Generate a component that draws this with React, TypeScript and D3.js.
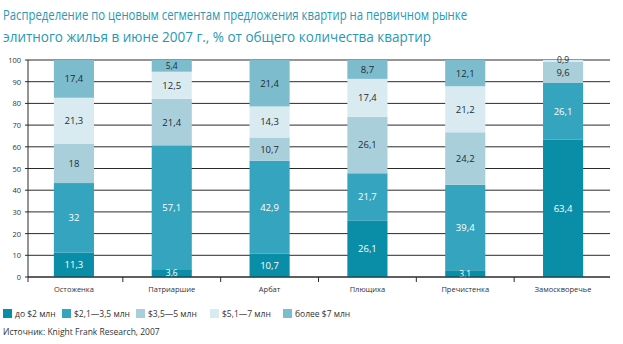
import React from "react";
import * as d3 from "d3";

const categories = ["Остоженка", "Патриаршие", "Арбат", "Плющиха", "Пречистенка", "Замоскворечье"];
const seriesNames = ["до $2 млн", "$2,1—3,5 млн", "$3,5—5 млн", "$5,1—7 млн", "более $7 млн"];
const upTo2 = [11.3, 3.6, 10.7, 26.1, 3.1, 63.4];
const from2to35 = [32, 57.1, 42.9, 21.7, 39.4, 26.1];
const from35to5 = [18, 21.4, 10.7, 26.1, 24.2, 9.6];
const from5to7 = [21.3, 12.5, 14.3, 17.4, 21.2, 0.9];
const over7 = [17.4, 5.4, 21.4, 8.7, 12.1, 0];
const yTicks = [0, 10, 20, 30, 40, 50, 60, 70, 80, 90, 100];
const titleLines = [
  "Распределение по ценовым сегментам предложения квартир на первичном рынке",
  "элитного жилья в июне 2007 г., % от общего количества квартир",
];
const sourceText = "Источник: Knight Frank Research, 2007";

const colors = ["#0a8ea7", "#35a5bf", "#a9cfdb", "#d9ebf1", "#7dbccd"];
const labelColors = ["#ffffff", "#ffffff", "#1d2b33", "#1d2b33", "#1d2b33"];
const FONT = "'Open Sans', 'DejaVu Sans', sans-serif";

export default function App() {
  const W = 623, H = 344;
  const seriesValues = [upTo2, from2to35, from35to5, from5to7, over7];
  const data = categories.map((c, i) => {
    const row: any = { cat: c };
    seriesNames.forEach((s, j) => (row[s] = seriesValues[j][i]));
    return row;
  });
  const stack = d3.stack<any>().keys(seriesNames)(data);

  const x = d3.scaleBand().domain(categories).range([25, 612]).paddingInner(0.59).paddingOuter(0.295);
  const step = x.step();
  const y = d3.scaleLinear().domain([0, 100]).range([277, 60]);
  const axisX0 = 28, axisX1 = 610;

  const legendX = [3, 62, 136, 210, 283];

  // label positions per bar, pushed apart when too close
  const labels: { x: number; y: number; text: string; color: string; size: number; key: string }[] = [];
  categories.forEach((cat, i) => {
    const items: { cy: number; v: number; j: number }[] = [];
    stack.forEach((s, j) => {
      const d = s[i];
      const v = d[1] - d[0];
      if (v <= 0) return;
      items.push({ cy: (y(d[0]) + y(d[1])) / 2, v, j });
    });
    // items bottom -> top; ensure min spacing
    const minGap = 12.5;
    for (let k = 1; k < items.length; k++) {
      const gap = items[k - 1].cy - items[k].cy;
      if (gap < minGap) {
        const deficit = minGap - gap;
        items[k - 1].cy += deficit / 2;
        items[k].cy -= deficit / 2;
      }
    }
    items.forEach((it) => {
      const small = y(0) - y(it.v) < 14;
      labels.push({
        x: (x(cat) as number) + x.bandwidth() / 2,
        y: it.cy + (small ? 3 : 3.5),
        text: String(Math.round(it.v * 10) / 10).replace(".", ","),
        color: labelColors[it.j],
        size: small ? 8.5 : 9.5,
        key: cat + it.j,
      });
    });
  });

  return (
    <svg width={W} height={H} style={{ position: "absolute", left: 0, top: 0, background: "#fff" }}>
      {titleLines.map((t, i) => (
        <text key={i} x={3} y={20 + i * 22} fontFamily={FONT} fontSize={14.5} fill="#2699b4"
          textLength={i === 0 ? 464 : 428} lengthAdjust="spacingAndGlyphs">{t}</text>
      ))}
      {yTicks.map((t) => (
        <g key={t}>
          <line x1={axisX0 - 3} x2={axisX1} y1={y(t)} y2={y(t)} stroke="#2b2b2b" strokeWidth={1} />
          <text x={21} y={y(t) + 3} fontFamily={FONT} fontSize={7.5} fill="#333" textAnchor="end">{t}</text>
        </g>
      ))}
      <line x1={axisX0} x2={axisX0} y1={y(100)} y2={y(0) + 5} stroke="#2b2b2b" strokeWidth={1} />
      {stack.map((s, j) => (
        <g key={j}>
          {s.map((d, i) => {
            const cat = categories[i];
            const h = y(d[0]) - y(d[1]);
            if (h <= 0) return null;
            return (
              <rect key={i} x={x(cat)} y={y(d[1])} width={x.bandwidth()} height={h} fill={colors[j]} />
            );
          })}
        </g>
      ))}
      {labels.map((l) => (
        <text key={l.key} x={l.x} y={l.y} fontFamily={FONT} fontSize={l.size} fill={l.color} textAnchor="middle">
          {l.text}
        </text>
      ))}
      <line x1={axisX0} x2={axisX1} y1={y(0)} y2={y(0)} stroke="#2b2b2b" strokeWidth={1} />
      {categories.slice(1).map((c) => {
        const bx = (x(c) as number) - (step - x.bandwidth()) / 2;
        return <line key={c} x1={bx} x2={bx} y1={y(0)} y2={y(0) + 5} stroke="#2b2b2b" strokeWidth={1} />;
      })}
      {categories.map((c) => (
        <text key={c} x={(x(c) as number) + x.bandwidth() / 2} y={292} fontFamily={FONT} fontSize={7.5}
          fill="#333" textAnchor="middle">{c}</text>
      ))}
      {seriesNames.map((s, j) => (
        <g key={s}>
          <rect x={legendX[j]} y={309} width={9} height={9} fill={colors[j]} />
          <text x={legendX[j] + 12} y={317} fontFamily={FONT} fontSize={8.5} fill="#333">{s}</text>
        </g>
      ))}
      <text x={3} y={335} fontFamily={FONT} fontSize={8.5} fill="#333">{sourceText}</text>
    </svg>
  );
}
